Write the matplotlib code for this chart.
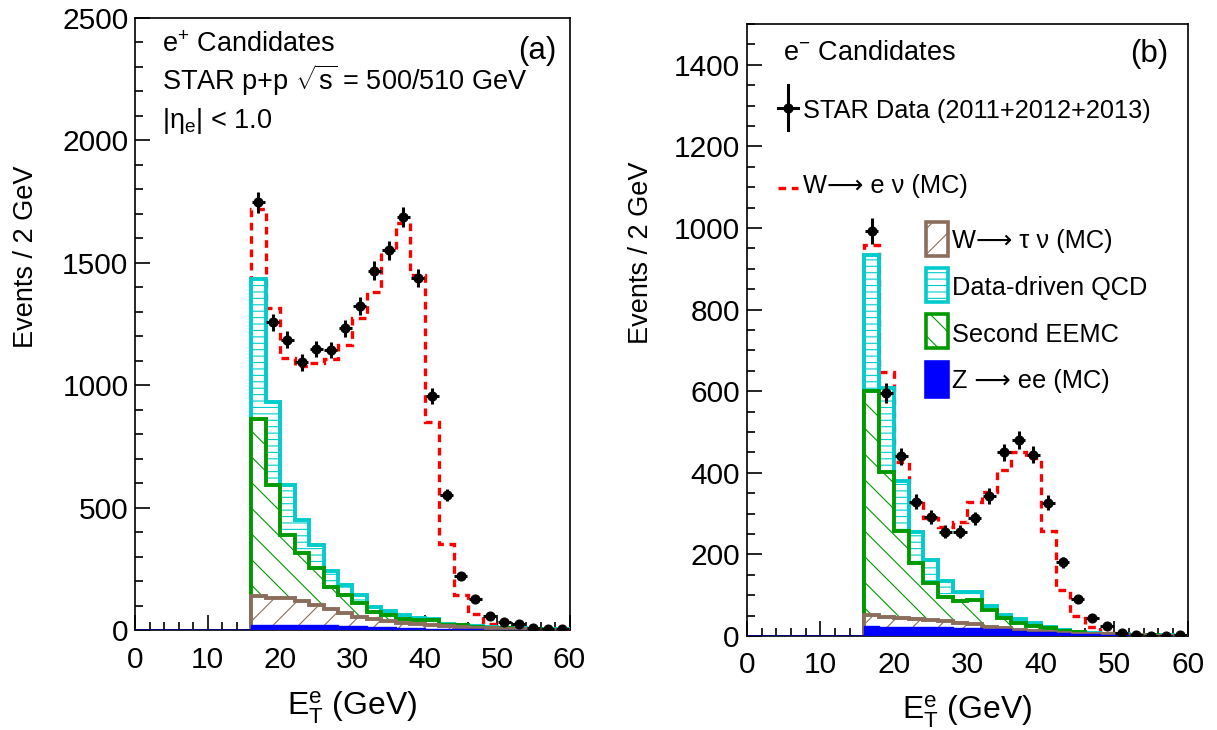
import numpy as np
import matplotlib
matplotlib.use("Agg")
import matplotlib.pyplot as plt
from matplotlib.patches import Rectangle
from matplotlib.lines import Line2D
from matplotlib.ticker import MultipleLocator

DPI = 77
S = 100.0 / DPI   # point-size scale so that sizes match a 100-dpi layout

plt.rcParams['font.family'] = ['Liberation Sans', 'DejaVu Sans']
plt.rcParams['mathtext.fontset'] = 'custom'
plt.rcParams['mathtext.rm'] = 'Liberation Sans'
plt.rcParams['mathtext.it'] = 'Liberation Sans:italic'
plt.rcParams['mathtext.bf'] = 'Liberation Sans:bold'
plt.rcParams['mathtext.default'] = 'regular'
plt.rcParams['hatch.linewidth'] = 0.8 * S

# ---------------- data ----------------
bin_edges = list(range(16, 62, 2))  # E_T bins (GeV), 2 GeV wide

# (a) e+ candidates : stacked levels (cumulative, as drawn)
data_pos = [1747, 1257, 1186, 1094, 1149, 1145, 1234, 1325, 1469, 1551, 1687,
            1438, 957, 553, 222, 128, 60, 36, 25, 8, 5, 5]
wenu_total_pos = [1720, 1315, 1111, 1081, 1091, 1108, 1166, 1275, 1383, 1554, 1663,
                  1452, 852, 351, 146, 66, 25, 15, 10, 6, 4, 3]
qcd_top_pos = [1435, 934, 595, 452, 347, 242, 185, 146, 97, 79, 61,
               50, 45, 26, 22, 19, 15, 11, 8, 6, 5, 4]
eemc_top_pos = [862, 594, 388, 318, 253, 178, 145, 110, 75, 63, 48,
                44, 42, 24, 22, 15, 11, 8, 5, 4, 3, 2]
tau_top_pos = [141, 134, 131, 121, 104, 86, 70, 56, 47, 40, 32,
               25, 20, 17, 14, 11, 8, 6, 4, 3, 2, 2]
zee_pos = [20, 20, 20, 20, 20, 20, 18, 16, 14, 12, 10,
           8, 7, 6, 5, 4, 3, 2, 2, 1, 1, 1]

# (b) e- candidates
data_neg = [993, 595, 441, 329, 292, 256, 256, 288, 343, 450, 480,
            444, 327, 181, 90, 43, 25, 7, 2, 1, 1, 2]
wenu_total_neg = [958, 648, 427, 325, 290, 268, 280, 329, 352, 407, 450,
                  437, 258, 112, 50, 21, 8, 4, 3, 2, 2, 2]
qcd_top_neg = [934, 607, 380, 256, 186, 134, 109, 109, 73, 51, 41,
               31, 21, 15, 10, 7, 5, 4, 3, 2, 2, 1]
eemc_top_neg = [601, 403, 257, 178, 131, 95, 85, 88, 63, 43, 33,
                25, 20, 13, 9, 6, 4, 3, 2, 2, 1, 1]
tau_top_neg = [52, 46, 44, 42, 39, 36, 33, 29, 22, 19, 15,
               12, 10, 8, 6, 5, 4, 3, 2, 1, 1, 1]
zee_neg = [25, 23, 22, 22, 22, 21, 20, 19, 17, 16, 13,
           11, 9, 7, 5, 4, 3, 2, 1, 1, 1, 1]

legend_labels = ["STAR Data (2011+2012+2013)", "W\u27f6 e \u03bd (MC)",
                 "W\u27f6 \u03c4 \u03bd (MC)", "Data-driven QCD",
                 "Second EEMC", "Z \u27f6 ee (MC)"]

RED = '#ff0000'
CYAN = '#00cccc'
GREEN = '#009900'
BROWN = '#8b6d5c'
BLUE = '#0000ff'

TICK_FS = 21.5 * S
TEXT_FS = 19.5 * S
LEG_FS = 18.3 * S
DASH = (0, (2.3, 1.7))

fig = plt.figure(figsize=(1217 / DPI, 730 / DPI), dpi=DPI)
axL = fig.add_axes([0.11126, 0.13644, 0.35670, 0.83890])
axR = fig.add_axes([0.61364, 0.12877, 0.36237, 0.83836])


def draw_panel(ax, data, total, qcd_top, eemc_top, tau_top, zee):
    edges = np.array(bin_edges, dtype=float)
    centers = 0.5 * (edges[:-1] + edges[1:])
    # W -> e nu total (dashed red), lowest in the stack drawing order
    ax.stairs(total, edges, baseline=0, fill=False, color=RED, lw=2.4 * S,
              ls=DASH, zorder=2)
    layers = [(qcd_top, CYAN, '--', 3), (eemc_top, GREEN, '\\', 4),
              (tau_top, BROWN, '/', 5)]
    for top, col, hatch, z in layers:
        ax.stairs(top, edges, baseline=0, fill=True, facecolor='white',
                  edgecolor=col, hatch=hatch, linewidth=0, zorder=z)
        ax.stairs(top, edges, baseline=0, fill=False, color=col, lw=2.8 * S,
                  zorder=z + 0.5)
    ax.stairs(zee, edges, baseline=0, fill=True, facecolor=BLUE,
              edgecolor=BLUE, linewidth=1.0 * S, zorder=6)
    ax.plot([0, edges[0]], [0, 0], color='#000080', lw=2.0 * S, zorder=6,
            solid_capstyle='butt')
    d = np.array(data, dtype=float)
    ax.errorbar(centers, d, yerr=np.sqrt(d), xerr=0.9, fmt='o', color='black',
                ms=6.5 * S, elinewidth=2.2 * S, capsize=0, zorder=10)

    ax.set_xlim(0, 60)
    ax.xaxis.set_major_locator(MultipleLocator(10))
    ax.xaxis.set_minor_locator(MultipleLocator(2))
    ax.tick_params(which='both', direction='in', top=False, right=False,
                   width=1.2 * S, labelsize=TICK_FS)
    ax.tick_params(which='major', length=11 * S)
    ax.tick_params(which='minor', length=6 * S)
    ax.tick_params(axis='x', which='major', pad=11 * S)
    ax.tick_params(axis='y', which='major', pad=5 * S)
    for s in ax.spines.values():
        s.set_linewidth(1.2 * S)


draw_panel(axL, data_pos, wenu_total_pos, qcd_top_pos, eemc_top_pos,
           tau_top_pos, zee_pos)
axL.set_ylim(0, 2500)
axL.yaxis.set_major_locator(MultipleLocator(500))
axL.yaxis.set_minor_locator(MultipleLocator(100))

draw_panel(axR, data_neg, wenu_total_neg, qcd_top_neg, eemc_top_neg,
           tau_top_neg, zee_neg)
axR.set_ylim(0, 1500)
axR.set_yticks(range(0, 1401, 200))
axR.yaxis.set_minor_locator(MultipleLocator(50))

# axis titles
for ax, xl_y, yl_x, yl_y in [(axL, -0.138, -0.252, 0.610),
                             (axR, -0.137, -0.240, 0.627)]:
    ax.text(0.5, xl_y, r"$E_{T}^{e}$ (GeV)", transform=ax.transAxes,
            ha='center', va='baseline', fontsize=23 * S)
    ax.text(yl_x, yl_y, "Events / 2 GeV", transform=ax.transAxes,
            ha='center', va='center', rotation=90, fontsize=TEXT_FS)

# panel (a) annotations
axL.text(0.061, 0.9445, r"e$^{+}$ Candidates", transform=axL.transAxes,
         fontsize=TEXT_FS, va='baseline', ha='left')
axL.text(0.061, 0.8824, r"STAR p+p $\sqrt{s}$ = 500/510 GeV", transform=axL.transAxes,
         fontsize=TEXT_FS, va='baseline', ha='left')
axL.text(0.061, 0.820, r"$|\eta_{e}|$ < 1.0", transform=axL.transAxes,
         fontsize=TEXT_FS, va='baseline', ha='left')
axL.text(0.971, 0.9332, "(a)", transform=axL.transAxes, fontsize=22.5 * S,
         va='baseline', ha='right')

# panel (b) annotations
axR.text(0.081, 0.941, r"e$^{-}$ Candidates", transform=axR.transAxes,
         fontsize=TEXT_FS, va='baseline', ha='left')
axR.text(0.957, 0.938, "(b)", transform=axR.transAxes, fontsize=22.5 * S,
         va='baseline', ha='right')

# legend: data marker
tr = axR.transAxes
axR.add_line(Line2D([0.094, 0.094], [0.826, 0.900], transform=tr, color='black',
                    lw=2.2 * S, zorder=12))
axR.add_line(Line2D([0.071, 0.117], [0.863, 0.863], transform=tr, color='black',
                    lw=2.2 * S, zorder=12))
axR.add_line(Line2D([0.094], [0.863], transform=tr, marker='o', ms=6.5 * S,
                    color='black', zorder=12))
axR.text(0.128, 0.8464, legend_labels[0], transform=tr, fontsize=LEG_FS,
         va='baseline', ha='left')
# legend: W->e nu
axR.add_line(Line2D([0.070, 0.117], [0.7325, 0.7325], transform=tr, color=RED,
                    lw=2.4 * S, ls=DASH, zorder=12))
axR.text(0.128, 0.7239, legend_labels[1], transform=tr, fontsize=LEG_FS,
         va='baseline', ha='left')

# legend: boxes
boxes = [(0.621, BROWN, '/', 'white', 0.6335, legend_labels[2]),
         (0.545, CYAN, '--', 'white', 0.557, legend_labels[3]),
         (0.470, GREEN, '\\', 'white', 0.480, legend_labels[4]),
         (0.391, BLUE, None, BLUE, 0.4047, legend_labels[5])]
for y0, col, hatch, fc, ytxt, lab in boxes:
    axR.add_patch(Rectangle((0.4057, y0), 0.0513, 0.056, transform=tr,
                            facecolor=fc, edgecolor=col, hatch=hatch, lw=2.6 * S,
                            zorder=12))
    axR.text(0.466, ytxt, lab, transform=tr, fontsize=LEG_FS, va='baseline',
             ha='left', zorder=12)

fig.savefig("out.png", dpi=DPI)
